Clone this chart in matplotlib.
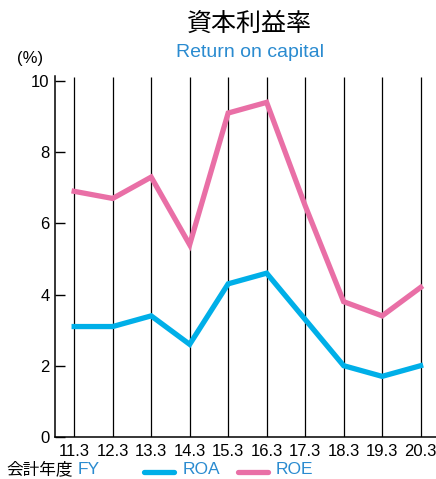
import matplotlib
matplotlib.use("Agg")
import matplotlib.pyplot as plt

# 資本利益率 data
years = ["11.3", "12.3", "13.3", "14.3", "15.3", "16.3", "17.3", "18.3", "19.3", "20.3"]
roa = [3.1, 3.1, 3.4, 2.6, 4.3, 4.6, 3.3, 2.0, 1.7, 2.0]
roe = [6.9, 6.7, 7.3, 5.4, 9.1, 9.4, 6.5, 3.8, 3.4, 4.2]
yticks = [0, 2, 4, 6, 8, 10]

roa_color = "#00afe8"
roe_color = "#e96fa6"
blue_text = "#2a8bd0"

plt.rcParams['font.family'] = ['Liberation Sans', 'Noto Sans CJK JP', 'DejaVu Sans']

fig = plt.figure(figsize=(4.36, 4.79), dpi=100)
ax = fig.add_axes([0.126, 0.088, 0.874, 0.754])

x = list(range(len(years)))
ax.vlines(x, 0, 10.12, color="black", lw=0.9, zorder=1)
ax.plot(x, roa, color=roa_color, lw=3.8, solid_joinstyle="miter", zorder=3)
ax.plot(x, roe, color=roe_color, lw=3.8, solid_joinstyle="miter", zorder=3)

ax.set_xlim(-0.5, 9.4)
ax.set_ylim(0, 10.15)
ax.set_yticks(yticks)
ax.set_xticks(x)
ax.set_xticklabels(years)
ax.tick_params(axis="y", direction="in", length=7, width=1, labelsize=12, pad=4)
ax.tick_params(axis="x", length=0, labelsize=12, pad=5)
for s in ["top", "right"]:
    ax.spines[s].set_visible(False)
ax.spines["left"].set_linewidth(1.1)
ax.spines["bottom"].set_linewidth(1.1)

# titles
fig.text(0.573, 0.95, "資本利益率", ha="center", va="center", fontsize=18,
         family=["Noto Sans CJK JP"])
fig.text(0.573, 0.89, "Return on capital", ha="center", va="center", fontsize=14,
         color=blue_text)
fig.text(0.07, 0.878, "(%)", ha="center", va="center", fontsize=12)

# bottom labels / legend
yb = 0.019
fig.text(0.015, yb, "会計年度", ha="left", va="center", fontsize=12,
         family=["Noto Sans CJK JP"])
fig.text(0.178, yb, "FY", ha="left", va="center", fontsize=12.5, color=blue_text)
fig.add_artist(plt.Line2D([0.33, 0.40], [yb - 0.004, yb - 0.004], color=roa_color, lw=3.8,
                          solid_capstyle="round"))
fig.text(0.42, yb, "ROA", ha="left", va="center", fontsize=12.5, color=blue_text)
fig.add_artist(plt.Line2D([0.545, 0.615], [yb - 0.004, yb - 0.004], color=roe_color, lw=3.8,
                          solid_capstyle="round"))
fig.text(0.633, yb, "ROE", ha="left", va="center", fontsize=12.5, color=blue_text)

fig.savefig("out.png", dpi=100)
